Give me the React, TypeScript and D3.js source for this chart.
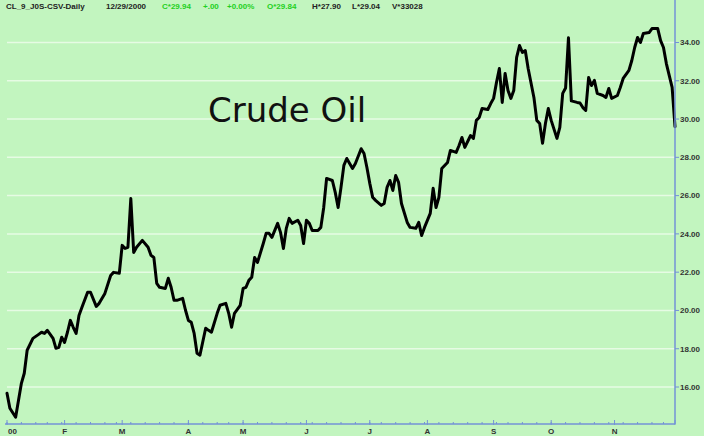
import React from "react";
import * as d3 from "d3";

const W = 704;
const H = 436;

const holidays = ["2000-01-17", "2000-02-21", "2000-04-21", "2000-05-29", "2000-07-04", "2000-09-04", "2000-11-23"];

const dates = [
  "2000-01-03","2000-01-04","2000-01-06","2000-01-07","2000-01-10","2000-01-11","2000-01-12","2000-01-14","2000-01-19","2000-01-20",
  "2000-01-21","2000-01-24","2000-01-26","2000-01-27","2000-01-28","2000-01-31","2000-02-01","2000-02-02","2000-02-03","2000-02-04",
  "2000-02-07","2000-02-08","2000-02-09","2000-02-11","2000-02-14","2000-02-16","2000-02-17","2000-02-22","2000-02-24","2000-02-25",
  "2000-02-29","2000-03-01","2000-03-02","2000-03-03","2000-03-06","2000-03-07","2000-03-08","2000-03-10","2000-03-14","2000-03-15",
  "2000-03-16","2000-03-17","2000-03-20","2000-03-22","2000-03-23","2000-03-24","2000-03-27","2000-03-28","2000-03-30","2000-03-31",
  "2000-04-03","2000-04-04","2000-04-05","2000-04-06","2000-04-07","2000-04-11","2000-04-12","2000-04-13","2000-04-17","2000-04-18",
  "2000-04-20","2000-04-24","2000-04-25","2000-04-26","2000-04-28","2000-05-01","2000-05-02","2000-05-03","2000-05-04","2000-05-05",
  "2000-05-08","2000-05-10","2000-05-11","2000-05-12","2000-05-15","2000-05-17","2000-05-18","2000-05-19","2000-05-22","2000-05-23",
  "2000-05-24","2000-05-26","2000-05-30","2000-05-31","2000-06-01","2000-06-02","2000-06-05","2000-06-07","2000-06-08","2000-06-09",
  "2000-06-12","2000-06-14","2000-06-15","2000-06-16","2000-06-19","2000-06-20","2000-06-21","2000-06-23","2000-06-26","2000-06-28",
  "2000-06-29","2000-06-30","2000-07-03","2000-07-05","2000-07-06","2000-07-10","2000-07-11","2000-07-12","2000-07-13","2000-07-14",
  "2000-07-17","2000-07-18","2000-07-19","2000-07-21","2000-07-24","2000-07-26","2000-07-27","2000-07-28","2000-07-31","2000-08-02",
  "2000-08-03","2000-08-04","2000-08-07","2000-08-08","2000-08-10","2000-08-11","2000-08-15","2000-08-16","2000-08-17","2000-08-18",
  "2000-08-22","2000-08-23","2000-08-24","2000-08-25","2000-08-28","2000-08-30","2000-08-31","2000-09-01","2000-09-05","2000-09-06",
  "2000-09-07","2000-09-08","2000-09-11","2000-09-12","2000-09-13","2000-09-14","2000-09-15","2000-09-18","2000-09-19","2000-09-20",
  "2000-09-22","2000-09-25","2000-09-26","2000-09-27","2000-09-28","2000-09-29","2000-10-02","2000-10-04","2000-10-05","2000-10-06",
  "2000-10-09","2000-10-10","2000-10-11","2000-10-13","2000-10-16","2000-10-17","2000-10-18","2000-10-19","2000-10-20","2000-10-23",
  "2000-10-24","2000-10-26","2000-10-27","2000-10-30","2000-10-31","2000-11-02","2000-11-03","2000-11-06","2000-11-08","2000-11-09",
  "2000-11-10","2000-11-13","2000-11-14","2000-11-15","2000-11-17","2000-11-20","2000-11-22","2000-11-24","2000-11-27","2000-11-28",
  "2000-11-30","2000-12-01"
];

const prices = [
  15.67,14.89,14.42,15.31,16.19,16.72,17.92,18.54,18.75,18.86,
  18.80,18.96,18.54,18.02,18.07,18.60,18.33,18.86,19.48,19.12,
  18.80,19.74,20.16,20.95,20.95,20.21,20.37,20.89,21.83,21.99,
  21.94,23.40,23.24,23.30,25.85,23.03,23.30,23.66,23.30,22.88,
  22.77,21.42,21.21,21.15,21.68,21.21,20.53,20.53,20.63,20.01,
  19.48,19.38,18.80,17.76,17.66,19.07,18.96,18.86,19.85,20.27,
  20.37,19.85,19.12,19.85,20.27,21.15,21.21,21.57,21.73,22.77,
  22.51,23.50,24.03,24.03,23.82,24.55,24.08,23.24,24.29,24.81,
  24.55,24.71,24.44,23.50,24.71,24.55,24.18,24.18,24.34,25.38,
  26.90,26.79,26.17,25.38,26.43,27.58,27.94,27.42,27.68,28.45,
  28.20,27.47,26.64,25.91,25.75,25.49,25.59,26.43,26.79,26.27,
  27.05,26.69,25.59,24.60,24.34,24.29,24.60,23.92,24.34,25.07,
  26.38,25.38,25.91,27.42,27.73,28.36,28.26,28.62,29.04,28.52,
  29.14,28.99,29.93,30.08,30.55,30.50,30.81,31.08,31.91,32.64,
  30.87,32.38,31.49,31.08,31.49,33.22,33.84,33.48,33.58,32.64,
  31.13,29.93,29.77,28.73,29.77,30.55,29.93,28.99,29.56,31.34,
  31.62,34.25,30.95,30.87,30.84,30.60,30.45,32.17,31.75,32.02,
  31.34,31.23,31.13,31.60,31.08,31.23,31.65,32.12,32.54,33.06,
  33.74,34.26,34.00,34.47,34.52,34.73,34.73,34.10,33.74,32.90,
  31.65,29.60
];

const yTicks = [16, 18, 20, 22, 24, 26, 28, 30, 32, 34];
const monthLabels = ["00", "F", "M", "A", "M", "J", "J", "A", "S", "O", "N"];

const title = "Crude Oil";
const headerParts = [
  { text: "CL_9_J0S-CSV-Daily", color: "#222", x: 6 },
  { text: "12/29/2000", color: "#222", x: 106 },
  { text: "C*29.94", color: "#22d022", x: 162 },
  { text: "+.00", color: "#22d022", x: 203 },
  { text: "+0.00%", color: "#22d022", x: 227 },
  { text: "O*29.84", color: "#22d022", x: 267 },
  { text: "H*27.90", color: "#222", x: 312 },
  { text: "L*29.04", color: "#222", x: 352 },
  { text: "V*33028", color: "#222", x: 392 },
];

const fmt = d3.utcFormat("%Y-%m-%d");
const holidaySet = new Set(holidays);
const calendar = d3.utcDay
  .range(new Date(Date.UTC(2000, 0, 3)), new Date(Date.UTC(2000, 11, 2)))
  .filter((d) => d.getUTCDay() !== 0 && d.getUTCDay() !== 6 && !holidaySet.has(fmt(d)));
const calKeys = calendar.map(fmt);

const plotLeft = 7;
const plotRight = 675;
const axisY = 424;

const x = d3.scalePoint<string>().domain(calKeys).range([plotLeft, plotRight]);
const y = d3.scaleLinear().domain([16, 34]).range([387, 42.5]);

const series = dates.map((d, i) => ({ d, v: prices[i] })).filter((p) => x(p.d) !== undefined);

const line = d3
  .line<{ d: string; v: number }>()
  .x((p) => x(p.d) as number)
  .y((p) => y(p.v))
  .curve(d3.curveLinear);

// first trading day of each month, and of each week
const monthStarts: string[] = [];
const weekStarts: string[] = [];
calendar.forEach((d, i) => {
  const prev = calendar[i - 1];
  if (!prev || prev.getUTCMonth() !== d.getUTCMonth()) monthStarts.push(fmt(d));
  if (!prev || d3.utcMonday.floor(prev).getTime() !== d3.utcMonday.floor(d).getTime()) weekStarts.push(fmt(d));
});

const BG = "#c2f5bf";
const AXIS = "#7392d6";
const GRID = "#e6fbe4";

export default function App() {
  return (
    <svg
      width={W}
      height={H}
      style={{ position: "absolute", left: 0, top: 0, display: "block" }}
      xmlns="http://www.w3.org/2000/svg"
    >
      <rect x={0} y={0} width={W} height={H} fill={BG} />
      {/* gridlines */}
      {yTicks.map((t) => (
        <line key={"g" + t} x1={plotLeft} x2={plotRight} y1={y(t)} y2={y(t)} stroke={GRID} strokeWidth={1.5} />
      ))}
      {/* header */}
      {headerParts.map((p, i) => (
        <text key={"h" + i} x={p.x} y={9} fontFamily="Liberation Sans, Arial, sans-serif" fontSize={8} fontWeight="bold" fill={p.color}>
          {p.text}
        </text>
      ))}
      {/* title */}
      <text x={208} y={122} fontFamily="DejaVu Sans, Verdana, sans-serif" fontSize={34} fill="#111">
        {title}
      </text>
      {/* price line */}
      <path d={line(series) || ""} fill="none" stroke="#000" strokeWidth={3} strokeLinejoin="round" strokeLinecap="round" />
      {/* axes */}
      <line x1={plotRight} x2={plotRight} y1={0} y2={axisY} stroke={AXIS} strokeWidth={1.5} />
      <line x1={plotLeft - 2} x2={plotRight} y1={axisY} y2={axisY} stroke={AXIS} strokeWidth={1.5} />
      {yTicks.map((t) => (
        <g key={"y" + t}>
          <line x1={plotRight} x2={plotRight + 4} y1={y(t)} y2={y(t)} stroke={AXIS} strokeWidth={1} />
          <text
            x={plotRight + 5}
            y={y(t)}
            dy="0.35em"
            fontFamily="Liberation Sans, Arial, sans-serif"
            fontSize={8}
            fontWeight="bold"
            fill="#333"
          >
            {t.toFixed(2)}
          </text>
        </g>
      ))}
      {weekStarts.map((k) => (
        <line key={"w" + k} x1={x(k) as number} x2={x(k) as number} y1={axisY} y2={axisY - 2} stroke={AXIS} strokeWidth={1} />
      ))}
      {monthStarts.map((k, i) => (
        <g key={"m" + k}>
          <line x1={x(k) as number} x2={x(k) as number} y1={axisY + 1} y2={axisY - 4} stroke={AXIS} strokeWidth={1} />
          {monthLabels[i] !== undefined && (
            <text
              x={i === 0 ? (x(k) as number) + 1 : (x(k) as number)}
              y={434}
              textAnchor={i === 0 ? "start" : "middle"}
              fontFamily="Liberation Sans, Arial, sans-serif"
              fontSize={8}
              fontWeight="bold"
              fill="#333"
            >
              {monthLabels[i]}
            </text>
          )}
        </g>
      ))}
    </svg>
  );
}
